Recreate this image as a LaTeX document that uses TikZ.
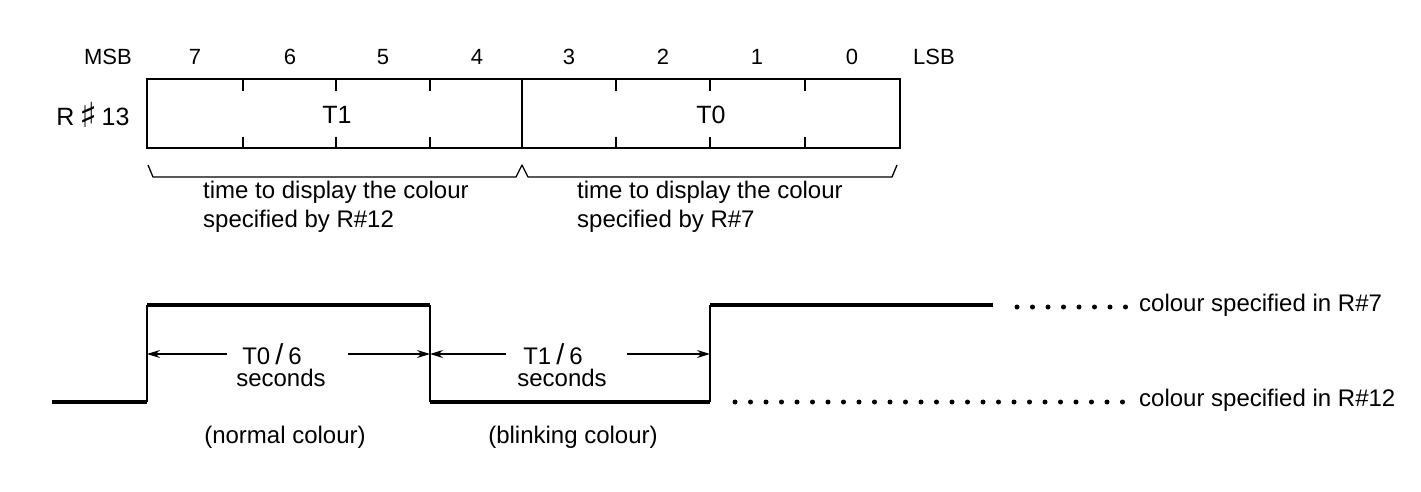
\documentclass[tikz,border=0pt]{standalone}
\usepackage{fontspec}
\setmainfont{Liberation Sans}
\newfontfamily\symfont{DejaVu Sans}
\usetikzlibrary{arrows.meta}
\begin{document}
\begin{tikzpicture}[x=1pt,y=-1pt,
  hdr/.style={font=\fontsize{22}{24}\selectfont, inner sep=0pt},
  fld/.style={font=\fontsize{25}{28}\selectfont, inner sep=0pt},
  txt/.style={font=\fontsize{24}{29}\selectfont, inner sep=0pt, align=left},
  regline/.style={line width=2.2pt},
  wave/.style={line width=4pt},
  edge/.style={line width=2pt},
  dim/.style={line width=1.2pt, -{Stealth[length=13pt,width=8pt]}},
  brk/.style={line width=1.3pt, line join=round},
  dots/.style={line width=5pt, line cap=round, dash pattern=on 0pt off 15.5pt}
]
\useasboundingbox (0,0) rectangle (1421,492);
% register box
\draw[regline] (147,79) rectangle (900,148);
\draw[regline] (522,79) -- (522,148);
\foreach \x in {243,336,430,616,710,805}{
  \draw[regline] (\x,79) -- (\x,91);
  \draw[regline] (\x,148) -- (\x,137);
}
% header labels
\node[hdr] (msb) at (108,57) {MSB};
\node[hdr] (lsb) at (934,57) {LSB};
\foreach \b/\x in {7/195,6/290,5/383,4/477,3/569,2/663,1/757,0/852}{
  \node[hdr] (b\b) at (\x,57) {\b};
}
\node[fld] (reg) at (93,115) {R\hspace{5pt}\raisebox{-2pt}{\scalebox{1.25}[1.15]{\symfont\fontsize{30}{30}\selectfont ♯}}\hspace{4pt}13};
\node[fld] (t1) at (337,115) {T1};
\node[fld] (t0) at (711,115) {T0};
% brackets
\draw[brk] (148,165) -- (153,177) -- (516,177) -- (522,165) -- (528,177) -- (892,177) -- (897,165);
\node[txt, anchor=north west] (d1) at (203,181) {time to display the colour\\specified by R\#12};
\node[txt, anchor=north west] (d2) at (577,181) {time to display the colour\\specified by R\#7};
% waveform
\coordinate (w0) at (52,402);
\coordinate (r1b) at (147,402);
\coordinate (r1t) at (147,305);
\coordinate (f1t) at (430,305);
\coordinate (f1b) at (430,402);
\coordinate (r2b) at (710,402);
\coordinate (r2t) at (710,305);
\coordinate (hend) at (993,305);
\draw[wave] (w0) -- (r1b);
\draw[wave] (r1t) -- (f1t);
\draw[wave] (f1b) -- (r2b);
\draw[wave] (r2t) -- (hend);
\draw[edge] (r1b) -- (r1t);
\draw[edge] (f1t) -- (f1b);
\draw[edge] (r2b) -- (r2t);
% dotted continuations
\coordinate (dh0) at (1017,307);
\coordinate (dh1) at (1132,307);
\coordinate (dl0) at (735,402);
\coordinate (dl1) at (1132,402);
\draw[dots] (dh0) -- (dh1);
\draw[dots] (dl0) -- (dl1);
\node[txt, anchor=west] (c7) at (1139,305) {colour specified in R\#7};
\node[txt, anchor=west] (c12) at (1139,400) {colour specified in R\#12};
% durations
\node[txt, align=center] (p0) at (272,354) {T0\hspace{5pt}\scalebox{1.2}{/}\hspace{5pt}6};
\node[txt, align=center] (s0) at (281,378) {seconds};
\node[txt, align=center] (p1) at (553,354) {T1\hspace{5pt}\scalebox{1.2}{/}\hspace{5pt}6};
\node[txt, align=center] (s1) at (562,378) {seconds};
\coordinate (a0l) at (147,354);
\coordinate (a0r) at (430,354);
\coordinate (a1r) at (710,354);
\draw[dim] (227,354) -- (a0l);
\draw[dim] (348,354) -- (a0r);
\draw[dim] (506,354) -- (a0r);
\draw[dim] (627,354) -- (a1r);
\node[txt] (nc) at (285,437) {(normal colour)};
\node[txt] (bc) at (573,437) {(blinking colour)};
\end{tikzpicture}
\end{document}
